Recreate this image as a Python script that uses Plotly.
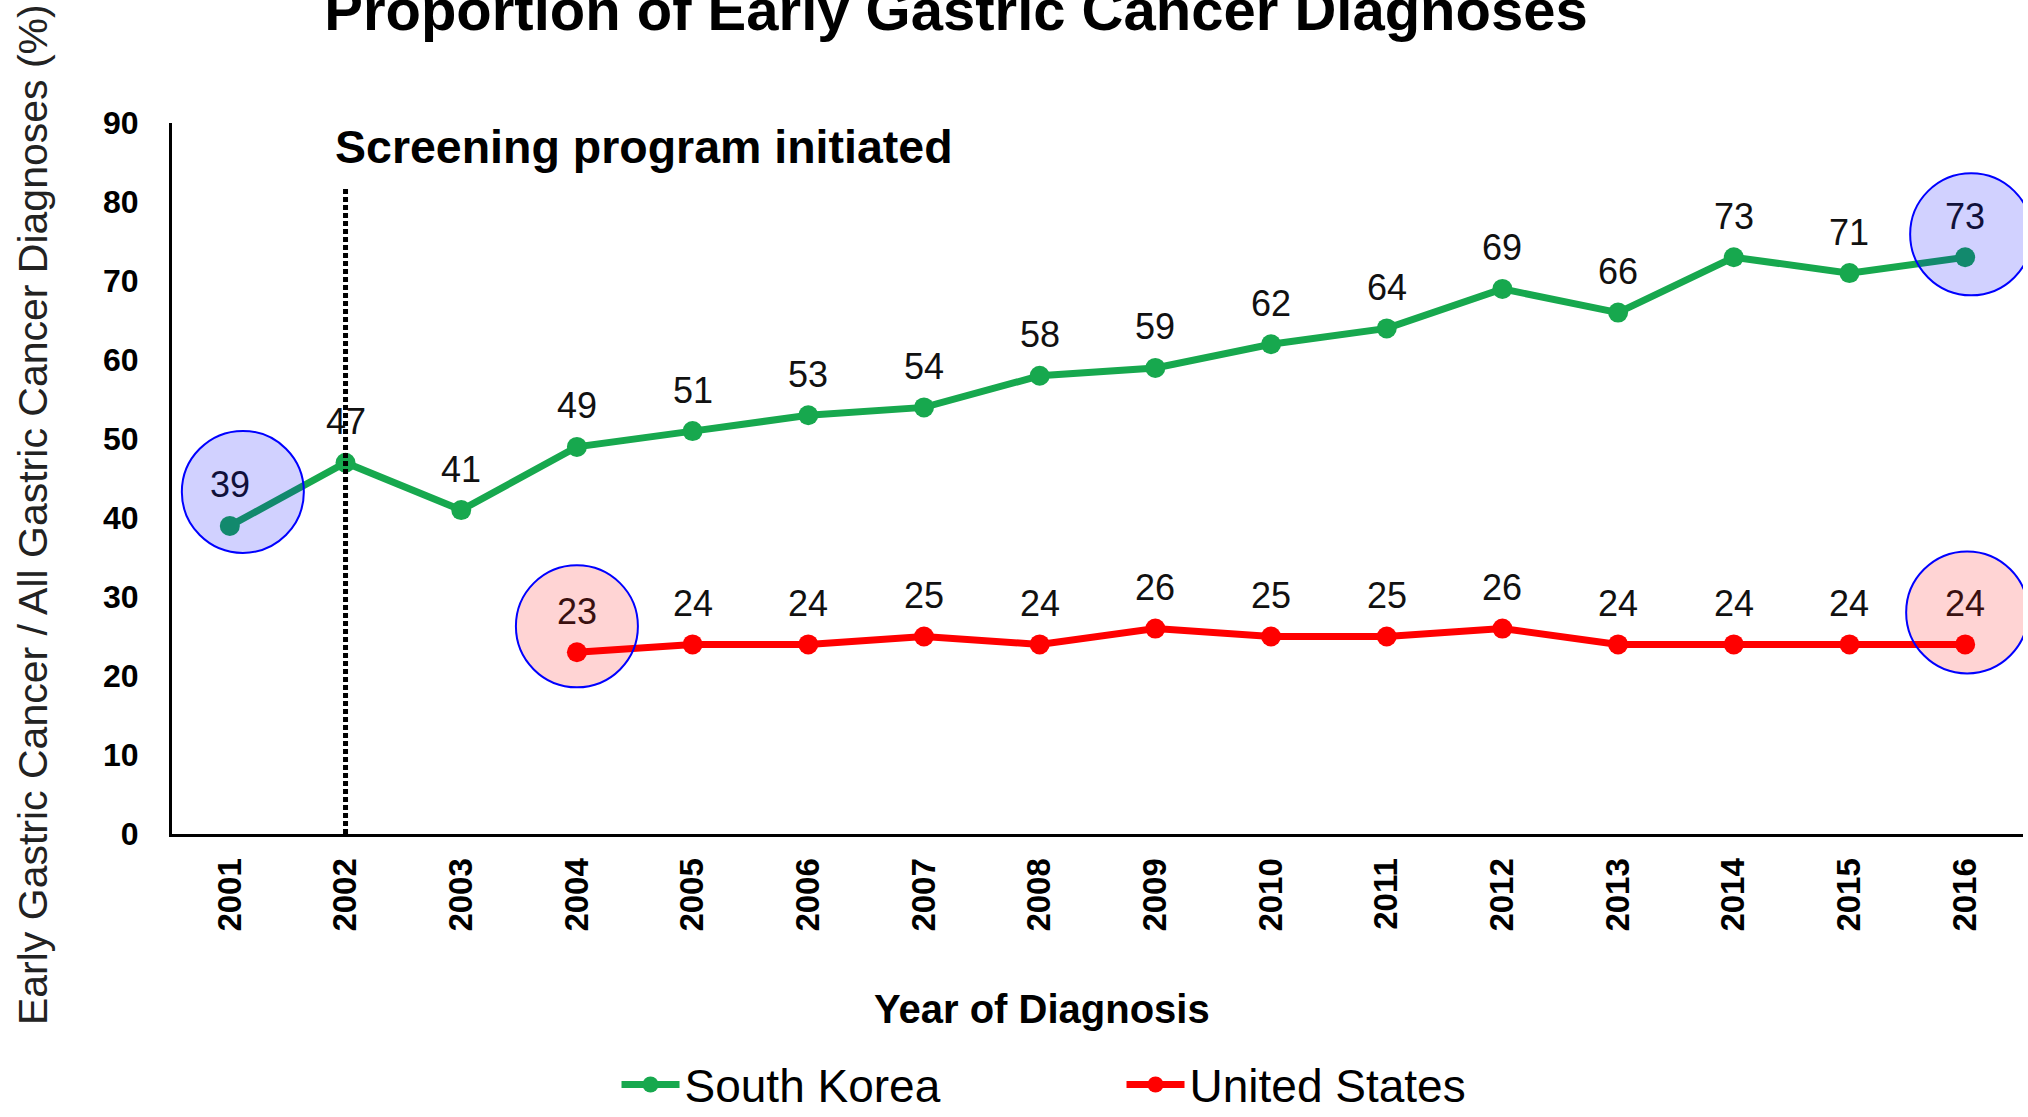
import plotly.graph_objects as go

# Diagnosis years on the x axis
years = list(range(2001, 2017))
year_labels = [str(y) for y in years]

# Early gastric cancer as a share of all gastric cancer diagnoses (%)
korea_years = list(range(2001, 2017))
korea_pct = [39, 47, 41, 49, 51, 53, 54, 58, 59, 62, 64, 69, 66, 73, 71, 73]

us_years = list(range(2004, 2017))
us_pct = [23, 24, 24, 25, 24, 26, 25, 25, 26, 24, 24, 24, 24]

y_ticks = [0, 10, 20, 30, 40, 50, 60, 70, 80, 90]

screening_year = 2002

# Points singled out with a shaded ring: (series, year)
highlights = [("korea", 2001), ("korea", 2016), ("us", 2004), ("us", 2016)]

FONT = "Arial, 'Liberation Sans', sans-serif"
GREEN = "#17a84e"
RED = "#ff0000"

series = {
    "korea": dict(name="South Korea", x=korea_years, y=korea_pct, color=GREEN,
                  fill="rgba(0,0,255,0.18)", ink="#10103a",
                  ring_shift={2001: (13, 34), 2016: (6, 23)}),
    "us": dict(name="United States", x=us_years, y=us_pct, color=RED,
               fill="rgba(255,0,0,0.17)", ink="#3a1010",
               ring_shift={2004: (0, 26), 2016: (2, 32)}),
}

fig = go.Figure()

for key in ["korea", "us"]:
    s = series[key]
    fig.add_trace(go.Scatter(
        x=s["x"], y=s["y"], name=s["name"], mode="lines+markers",
        line=dict(color=s["color"], width=7),
        marker=dict(color=s["color"], size=20),
        cliponaxis=False,
    ))

annotations = []
for key in ["korea", "us"]:
    s = series[key]
    hl_years = {yr for k, yr in highlights if k == key}
    for xv, yv in zip(s["x"], s["y"]):
        annotations.append(dict(
            x=xv, y=yv, xref="x", yref="y", text=str(yv), showarrow=False,
            yshift=41, yanchor="middle", xanchor="center",
            font=dict(family=FONT, size=36,
                      color=s["ink"] if xv in hl_years else "#111111"),
        ))

shapes = []
# Vertical dotted marker for the start of the screening program
shapes.append(dict(
    type="line", xref="x", yref="y", x0=screening_year, x1=screening_year,
    y0=0, y1=82, layer="above",
    line=dict(color="black", width=5, dash="5px,3px"),
))

ring_r = 61
for key, yr in highlights:
    s = series[key]
    val = s["y"][s["x"].index(yr)]
    dx, dy = s["ring_shift"][yr]
    shapes.append(dict(
        type="circle", xref="x", yref="y", xsizemode="pixel", ysizemode="pixel",
        xanchor=yr, yanchor=val,
        x0=dx - ring_r, x1=dx + ring_r, y0=dy - ring_r, y1=dy + ring_r,
        fillcolor=s["fill"], line=dict(color="#0000ff", width=2), layer="above",
    ))

annotations.append(dict(
    x=screening_year, y=87, xref="x", yref="y", xanchor="left", yanchor="middle",
    xshift=-13, showarrow=False, text="<b>Screening program initiated</b>",
    font=dict(family=FONT, size=46.5, color="black"),
))

annotations.append(dict(
    x=0.47, y=-0.246, xref="paper", yref="paper", xanchor="center",
    yanchor="middle", showarrow=False, text="<b>Year of Diagnosis</b>",
    font=dict(family=FONT, size=40, color="black"),
))

annotations.append(dict(
    x=-0.0751, y=0.45, xref="paper", yref="paper", xanchor="center",
    yanchor="middle", showarrow=False, textangle=-90,
    text="Early Gastric Cancer / All Gastric Cancer Diagnoses (%)",
    font=dict(family=FONT, size=41, color="#222222"),
))

fig.update_layout(
    width=2028, height=1117,
    margin=dict(l=172, r=5, t=123, b=283, autoexpand=False),
    paper_bgcolor="white", plot_bgcolor="white",
    font=dict(family=FONT, color="black"),
    title=dict(text="<b>Proportion of Early Gastric Cancer Diagnoses</b>",
               x=0.4714, xref="container", xanchor="center",
               y=0.991, yref="container", yanchor="middle",
               font=dict(family=FONT, size=58, color="black")),
    showlegend=True,
    legend=dict(orientation="h", xref="container", yref="container",
                x=0.304, y=0.029, xanchor="left", yanchor="middle",
                font=dict(family=FONT, size=46, color="black"),
                itemwidth=58, entrywidth=432, entrywidthmode="pixels",
                bgcolor="rgba(0,0,0,0)", borderwidth=0),
    annotations=annotations,
    shapes=shapes,
)

fig.update_xaxes(
    range=[2000.5, 2016.5], tickmode="array", tickvals=years, ticktext=year_labels,
    tickangle=-90, showgrid=False, zeroline=False, showline=True,
    linecolor="black", linewidth=3, ticks="", ticklabelstandoff=8,
    tickfont=dict(family=FONT, size=33, color="black", weight="bold"),
)
fig.update_yaxes(
    range=[0, 90], tickmode="array", tickvals=y_ticks,
    showgrid=False, zeroline=False, showline=True,
    linecolor="black", linewidth=3, ticks="", ticklabelstandoff=24,
    tickfont=dict(family=FONT, size=32, color="black", weight="bold"),
)

fig.write_html("out.html")
